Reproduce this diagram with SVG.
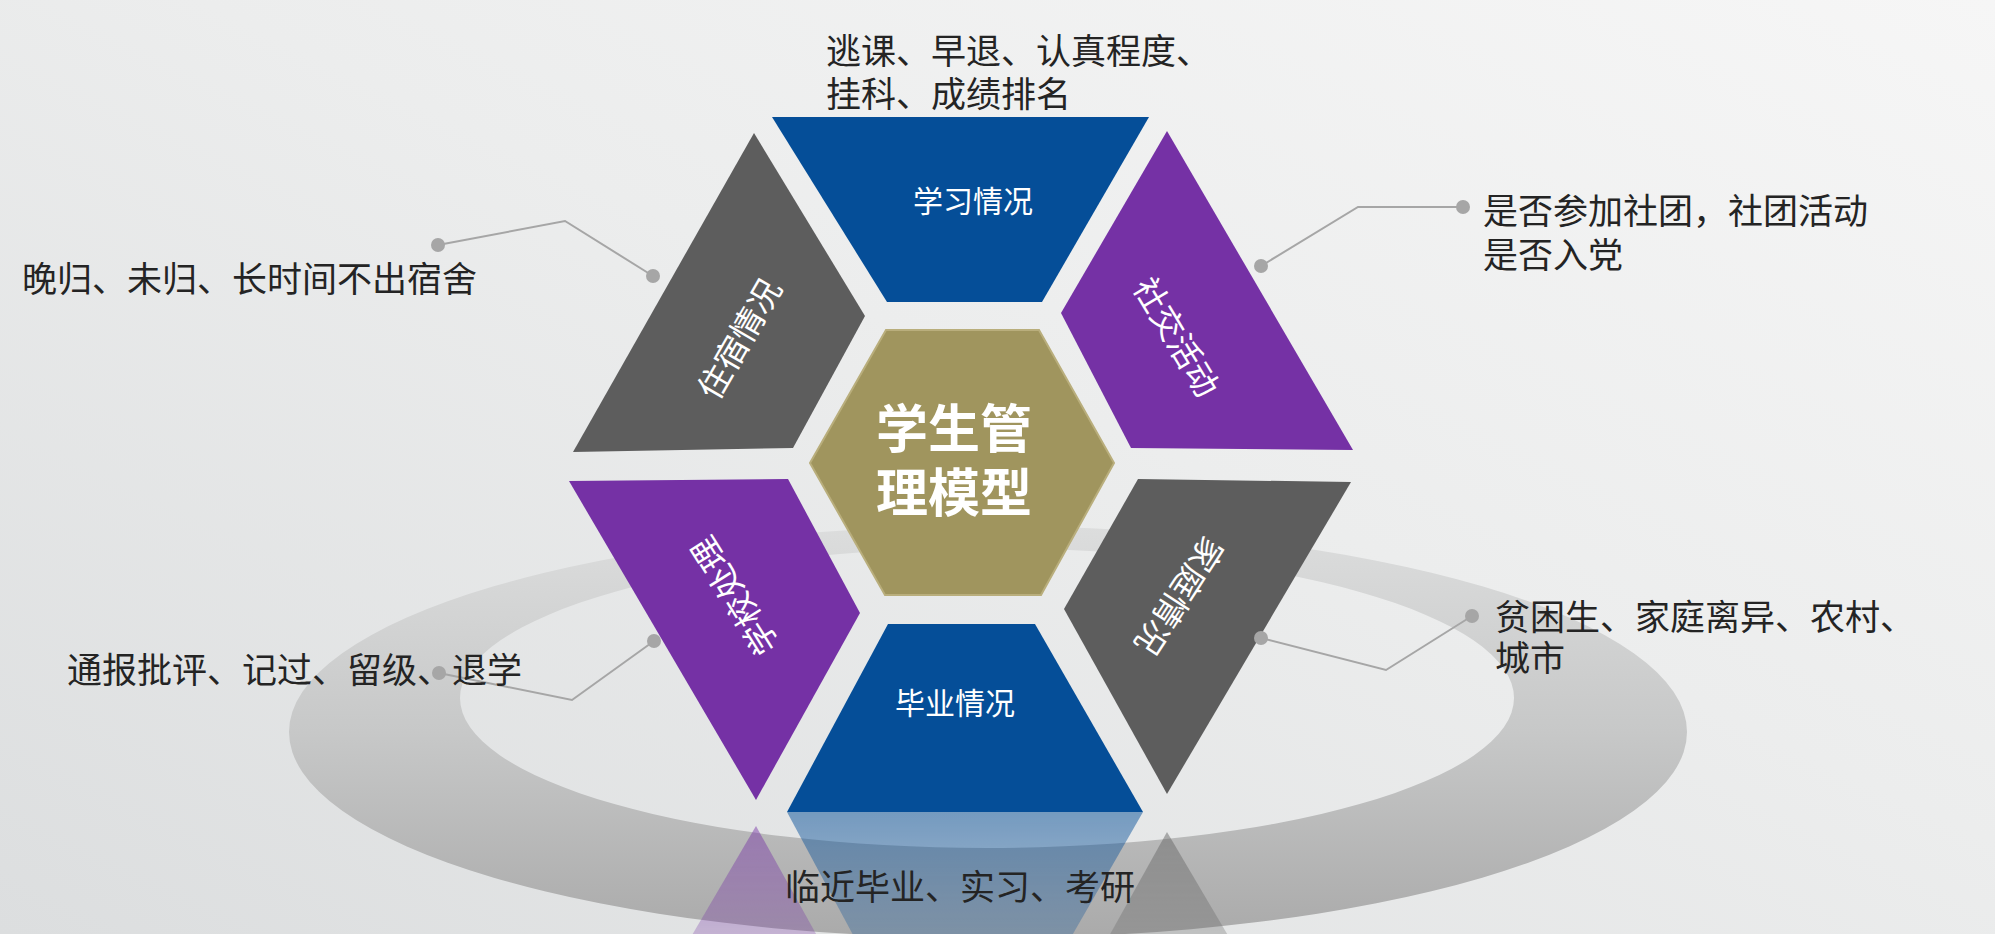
<svg xmlns="http://www.w3.org/2000/svg" width="1995" height="934" viewBox="0 0 1995 934">
<defs>
<linearGradient id="bg" x1="0" y1="1" x2="1" y2="0">
<stop offset="0" stop-color="#dcdedf"/>
<stop offset="0.55" stop-color="#eceded"/>
<stop offset="1" stop-color="#f6f6f6"/>
</linearGradient>
<linearGradient id="ring" gradientUnits="userSpaceOnUse" x1="0" y1="526" x2="0" y2="938">
<stop offset="0" stop-color="#dcdddd"/>
<stop offset="0.5" stop-color="#c7c8c8"/>
<stop offset="1" stop-color="#aaaaaa"/>
</linearGradient>
<linearGradient id="fade" gradientUnits="userSpaceOnUse" x1="0" y1="812" x2="0" y2="934">
<stop offset="0" stop-color="#fff" stop-opacity="0.5"/>
<stop offset="1" stop-color="#fff" stop-opacity="0.27"/>
</linearGradient>
<mask id="rm" maskUnits="userSpaceOnUse" x="0" y="780" width="1995" height="160">
<rect x="0" y="780" width="1995" height="160" fill="url(#fade)"/>
</mask>
</defs>
<style>
.blue{fill:#054e98}
.purple{fill:#7531a5}
.gray{fill:#5d5d5d}
.hex{fill:#a0955e;stroke:#b9ae7c;stroke-width:2}
.lbl{font-family:"Noto Sans CJK SC","Noto Sans",sans-serif;fill:#ffffff;text-anchor:middle;dominant-baseline:central}
.ann{font-family:"Noto Sans CJK SC","Noto Sans",sans-serif;fill:#242424;font-size:35px;dominant-baseline:central}
.title{font-family:"Noto Sans CJK SC","Noto Sans",sans-serif;fill:#ffffff;font-size:52px;font-weight:700;text-anchor:middle;dominant-baseline:central}
.ln{fill:none;stroke:#a6a6a6;stroke-width:2}
.dot{fill:#a6a6a6}
</style>
<rect width="1995" height="934" fill="url(#bg)"/>
<path d="M289,732 a699,206 0 1,0 1398,0 a699,206 0 1,0 -1398,0 Z M460,698 a527,150 0 1,0 1054,0 a527,150 0 1,0 -1054,0 Z" fill="url(#ring)" fill-rule="evenodd"/>
<g id="reflections" mask="url(#rm)">
<polygon class="blue" points="787,812 1143,812 1035,1000 888,1000"/>
<polygon class="purple" points="756,826 860,1013 788,1147 569,1145"/>
<polygon class="gray" points="1167,832 1064,1017 1138,1147 1351,1144"/>
</g>
<g id="node-study">
<polygon class="blue" points="772,117 1149,117 1042,302 887,302"/>
<text class="lbl" x="973" y="199" font-size="30">学习情况</text>
</g>
<g id="node-social">
<polygon class="purple" points="1167,131 1061,313 1131,448 1353,450"/>
<text class="lbl" x="1178" y="336" font-size="33" transform="rotate(59 1178 336)">社交活动</text>
</g>
<g id="node-family">
<polygon class="gray" points="1138,479 1351,482 1167,794 1064,609"/>
<text class="lbl" x="1181" y="597" font-size="33" transform="rotate(123 1181 597)">家庭情况</text>
</g>
<g id="node-graduation">
<polygon class="blue" points="888,624 1035,624 1143,812 787,812"/>
<text class="lbl" x="955" y="701" font-size="30">毕业情况</text>
</g>
<g id="node-discipline">
<polygon class="purple" points="569,481 788,479 860,613 756,800"/>
<text class="lbl" x="733" y="597" font-size="33" transform="rotate(-122 733 597)">学校处理</text>
</g>
<g id="node-dorm">
<polygon class="gray" points="754,133 865,316 793,448 573,452"/>
<text class="lbl" x="738" y="338" font-size="33" transform="rotate(-60 738 338)">住宿情况</text>
</g>
<g id="node-center">
<polygon class="hex" points="886,330 1039,330 1114,463 1041,595 885,595 810,463"/>
<text class="title" x="954" y="425">学生管</text>
<text class="title" x="954" y="489">理模型</text>
</g>
<g id="connectors">
<polyline class="ln" points="438,245 565,221 653,276"/>
<circle class="dot" cx="438" cy="245" r="7"/>
<circle class="dot" cx="653" cy="276" r="7"/>
<polyline class="ln" points="1261,266 1358,207 1463,207"/>
<circle class="dot" cx="1261" cy="266" r="7"/>
<circle class="dot" cx="1463" cy="207" r="7"/>
<polyline class="ln" points="1261,638 1386,670 1472,616"/>
<circle class="dot" cx="1261" cy="638" r="7"/>
<circle class="dot" cx="1472" cy="616" r="7"/>
<polyline class="ln" points="654,641 572,700 439,673"/>
<circle class="dot" cx="654" cy="641" r="7"/>
<circle class="dot" cx="439" cy="673" r="7"/>
</g>
<g id="annotations">
<text class="ann" x="826" y="48">逃课、早退、认真程度、</text>
<text class="ann" x="826" y="91">挂科、成绩排名</text>
<text class="ann" x="22" y="276">晚归、未归、长时间不出宿舍</text>
<text class="ann" x="1483" y="208">是否参加社团，社团活动</text>
<text class="ann" x="1483" y="252">是否入党</text>
<text class="ann" x="1495" y="614">贫困生、家庭离异、农村、</text>
<text class="ann" x="1495" y="655">城市</text>
<text class="ann" x="67" y="667">通报批评、记过、留级、退学</text>
<text class="ann" x="785" y="884">临近毕业、实习、考研</text>
</g>
</svg>
